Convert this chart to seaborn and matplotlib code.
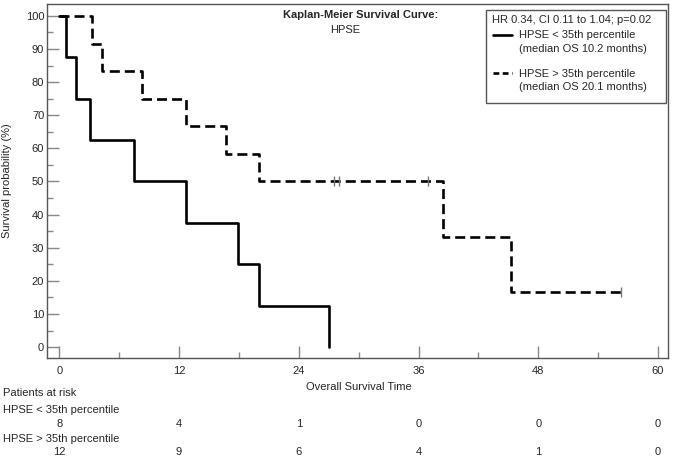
import numpy as np
import pandas as pd
import matplotlib
matplotlib.use('Agg')
import matplotlib.pyplot as plt
import seaborn as sns
from matplotlib.lines import Line2D
from matplotlib.patches import Rectangle

# Kaplan-Meier step data
low_time = [0, 0.7, 1.7, 3.1, 7.5, 12.7, 17.9, 20.0, 27.0]
low_surv = [100, 87.5, 75, 62.5, 50, 37.5, 25, 12.5, 0]
high_time = [0, 3.3, 4.3, 8.3, 12.7, 16.7, 20.0, 38.5, 45.3, 56.3]
high_surv = [100, 91.67, 83.33, 75, 66.67, 58.33, 50, 33.33, 16.67, 16.67]
cens_time = [27.5, 28.0, 36.9, 56.3]
cens_surv = [50, 50, 50, 16.67]

risk_times = [0, 12, 24, 36, 48, 60]
risk_low = [8, 4, 1, 0, 0, 0]
risk_high = [12, 9, 6, 4, 1, 0]

grp_low = 'HPSE < 35th percentile'
grp_high = 'HPSE > 35th percentile'
med_low = '(median OS 10.2 months)'
med_high = '(median OS 20.1 months)'
stats_text = 'HR 0.34, CI 0.11 to 1.04; p=0.02'

df = pd.concat([
    pd.DataFrame({'time': low_time, 'surv': low_surv, 'group': grp_low}),
    pd.DataFrame({'time': high_time, 'surv': high_surv, 'group': grp_high}),
])

sns.set_style('ticks')
plt.rcParams['font.family'] = ['Liberation Sans', 'DejaVu Sans']
plt.rcParams['font.size'] = 8
fs = 8

W, H = 673, 459
fig = plt.figure(figsize=(W / 100, H / 100), dpi=100)
ax = fig.add_axes([47 / W, 1 - 358 / H, 621 / W, 354 / H])

def fx(px):
    return px / W

def fy(py):
    return 1 - py / H

lw = 1.9
sns.lineplot(data=df, x='time', y='surv', style='group', color='black',
             dashes={grp_low: '', grp_high: (3.8, 1.9)}, drawstyle='steps-post',
             estimator=None, sort=False, linewidth=lw, legend=False, ax=ax)
ax.plot(cens_time, cens_surv, ls='none', marker='|', ms=7, mew=1, color='#777777')

ax.set_xlim(-1.23, 61.0)
ax.set_ylim(-3.3, 103.6)
ax.set_xticks(risk_times)
ax.set_xticks(np.arange(6, 60, 12), minor=True)
ax.set_yticks(np.arange(0, 101, 10))
ax.set_yticks(np.arange(5, 100, 10), minor=True)
ax.tick_params(which='major', direction='in', length=8.5, width=1, color='#888888',
               labelsize=fs, pad=6)
ax.tick_params(axis='y', which='major', pad=2)
ax.tick_params(which='minor', direction='in', length=4.5, width=1, color='#888888')
for s in ax.spines.values():
    s.set_color('#555555')
    s.set_linewidth(1)

ax.set_xlabel('Overall Survival Time', fontsize=fs)
ax.xaxis.set_label_coords(0.503, (358 - 381.5) / 354)
ax.set_ylabel('Survival probability (%)', fontsize=fs)
ax.yaxis.set_label_coords((12 - 47) / 621 - 0.0, 0.5)

fig.text(fx(360.5), fy(15), 'Kaplan-Meier Survival Curve:', ha='center', va='center',
         fontsize=fs, fontweight='bold')
fig.text(fx(330), fy(30), 'HPSE', ha='left', va='center', fontsize=fs)

# legend box drawn by hand to keep the handle beside the first label line
fig.patches.append(Rectangle((fx(486), fy(103)), fx(180), 93 / H, transform=fig.transFigure,
                             facecolor='white', edgecolor='#555555', lw=1, zorder=5))
fig.text(fx(492), fy(20), stats_text, ha='left', va='center', fontsize=fs, zorder=6)
for y1, y2, lab, med, dsh in [(35.5, 48.5, grp_low, med_low, None),
                              (74, 87, grp_high, med_high, (2.2, 1.3))]:
    ln = Line2D([fx(493), fx(512)], [fy(y1 - 1), fy(y1 - 1)], transform=fig.transFigure,
                color='black', lw=lw, zorder=6)
    if dsh:
        ln.set_dashes(dsh)
    fig.lines.append(ln)
    fig.text(fx(519), fy(y1), lab, ha='left', va='center', fontsize=fs, zorder=6)
    fig.text(fx(519), fy(y2), med, ha='left', va='center', fontsize=fs, zorder=6)

# patients at risk table
tr = matplotlib.transforms.blended_transform_factory(ax.transData, fig.transFigure)
fig.text(fx(3), fy(392.5), 'Patients at risk', ha='left', va='center', fontsize=fs)
fig.text(fx(3), fy(409.7), grp_low, ha='left', va='center', fontsize=fs)
fig.text(fx(3), fy(439.3), grp_high, ha='left', va='center', fontsize=fs)
for t, a, b in zip(risk_times, risk_low, risk_high):
    ax.text(t, fy(423.7), str(a), transform=tr, ha='center', va='center', fontsize=fs)
    ax.text(t, fy(452.3), str(b), transform=tr, ha='center', va='center', fontsize=fs)

fig.savefig('out.png', dpi=100)
